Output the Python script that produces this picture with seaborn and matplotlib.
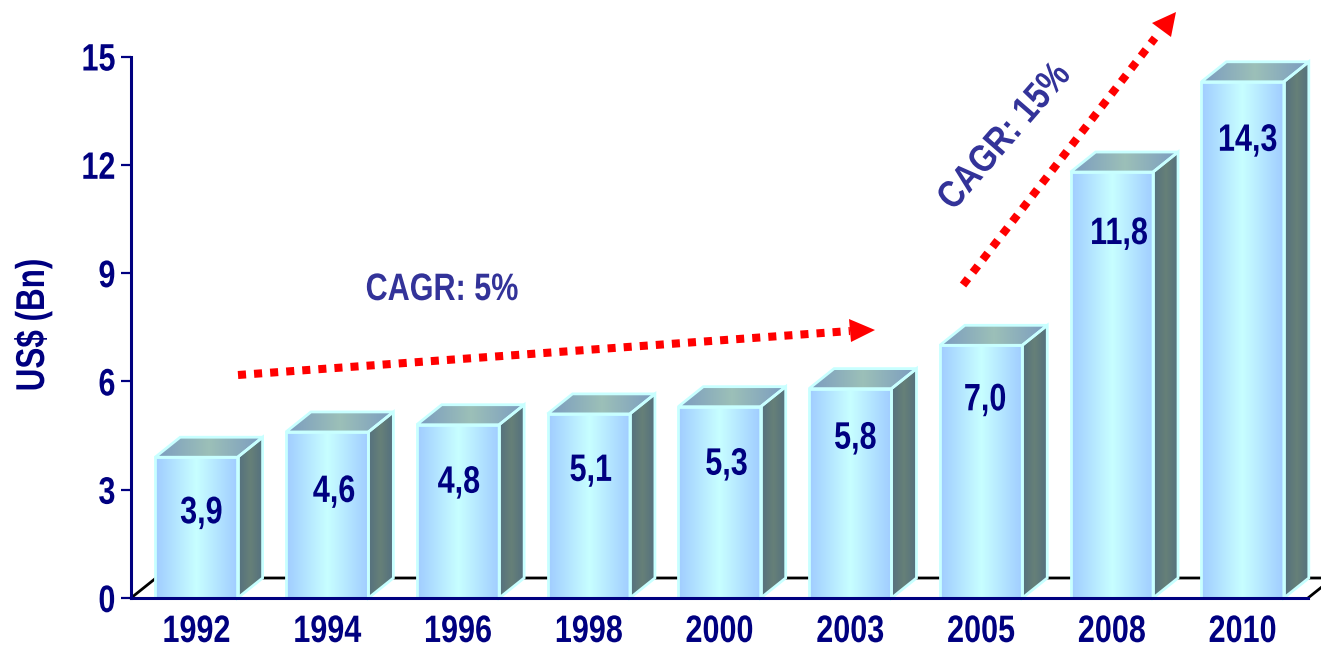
import matplotlib
matplotlib.use('Agg')
import matplotlib.pyplot as plt
from matplotlib.colors import LinearSegmentedColormap
from matplotlib.patches import Polygon
from matplotlib.patheffects import AbstractPathEffect
from matplotlib.transforms import Affine2D
import numpy as np
import seaborn as sns

years = ['1992', '1994', '1996', '1998', '2000', '2003', '2005', '2008', '2010']
values = [3.9, 4.6, 4.8, 5.1, 5.3, 5.8, 7.0, 11.8, 14.3]
value_labels = ['3,9', '4,6', '4,8', '5,1', '5,3', '5,8', '7,0', '11,8', '14,3']
y_ticks = [0, 3, 6, 9, 12, 15]

NAVY = '#000080'
EDGE = '#c8ffff'
INDIGO = '#333399'
W, H = 1321, 647
AX_L, AX_R, AX_T, AX_B = 131, 1308, 56.5, 598
XMIN = -0.5
DEPTH_X, DEPTH_Y = 25, 20  # fake 3d offset, pixels

# label offset from bar centre / bar top, pixels
label_nudge = [(5, 56), (7, 60), (1, 58), (2, 57), (7, 58), (5, 50), (4, 55), (7, 62), (5, 59)]

front_cmap = LinearSegmentedColormap.from_list('front', ['#a0ccff', '#c8ffff', '#a0ccff'])
top_cmap = LinearSegmentedColormap.from_list('top', ['#7b9cc0', '#9cc0b8', '#7b9cc0'])
side_cmap = LinearSegmentedColormap.from_list('side', ['#54707f', '#668078', '#54707f'])


class Squeeze(AbstractPathEffect):
    # narrows glyphs sideways, no Arial Narrow here
    def __init__(self, sx=0.8, anchor=0.5):
        super().__init__()
        self.sx = sx
        self.anchor = anchor

    def draw_path(self, renderer, gc, tpath, affine, rgbFace=None):
        ext = tpath.get_extents()
        pivot = ext.x0 + self.anchor * ext.width
        squeezed = Affine2D().translate(-pivot, 0).scale(self.sx, 1).translate(pivot, 0) + affine
        renderer.draw_path(gc, tpath, squeezed, rgbFace)


sns.set_theme(style='white')
plt.rcParams['font.family'] = ['Liberation Sans', 'DejaVu Sans']
plt.rcParams['font.weight'] = 'bold'

fig = plt.figure(figsize=(W / 100, H / 100), dpi=100, facecolor='white')
ax = fig.add_axes([AX_L / W, 1 - AX_B / H, (AX_R - AX_L) / W, (AX_B - AX_T) / H])

sns.barplot(x=years, y=values, width=0.63, color=EDGE, ax=ax, zorder=3)
ax.set_xlim(XMIN, XMIN + 9)
ax.set_ylim(0, 15)

xpx = (AX_R - AX_L) / 9
ypx = (AX_B - AX_T) / 15
dx, dy = DEPTH_X / xpx, DEPTH_Y / ypx
grad = np.linspace(0, 1, 128).reshape(1, -1)


def px(x, y):
    # figure pixel (top-left origin) to data coordinates
    return (x - AX_L) / xpx + XMIN, (AX_B - y) / ypx


def shaded_poly(points, cmap, zorder):
    xs = [p[0] for p in points]
    ys = [p[1] for p in points]
    im = ax.imshow(grad, cmap=cmap, aspect='auto', extent=(min(xs), max(xs), min(ys), max(ys)),
                   zorder=zorder, clip_on=True)
    poly = Polygon(points, closed=True, fc='none', ec=EDGE, lw=2, joinstyle='miter',
                   zorder=zorder + 0.1, clip_on=False)
    ax.add_patch(poly)
    im.set_clip_path(poly)


for bar, text, (nx, ny) in zip(list(ax.patches), value_labels, label_nudge):
    x0, w, h = bar.get_x(), bar.get_width(), bar.get_height()
    x1 = x0 + w
    bar.set_visible(False)
    shaded_poly([(x0, 0), (x1, 0), (x1, h), (x0, h)], front_cmap, 3)
    shaded_poly([(x0, h), (x1, h), (x1 + dx, h + dy), (x0 + dx, h + dy)], top_cmap, 3)
    shaded_poly([(x1, 0), (x1 + dx, dy), (x1 + dx, h + dy), (x1, h)], side_cmap, 3)
    ax.text(x0 + w / 2 + nx / xpx, h - ny / ypx, text, color=NAVY, fontsize=27.5,
            ha='center', va='center', zorder=6, path_effects=[Squeeze()])

ax.set_xlim(XMIN, XMIN + 9)
ax.set_ylim(0, 15)

# floor lines behind the bars
ax.plot([XMIN, XMIN + dx, XMIN + 9 + dx], [0, dy, dy], color='black', lw=2, zorder=1, clip_on=False)
ax.plot([XMIN + 9, XMIN + 9 + dx * 0.55], [0, dy * 0.55], color='black', lw=2, zorder=1, clip_on=False)

# dotted red growth arrows
for (start, end, tip, wing1, wing2) in [
    ((238, 375), (850, 331), (875, 330), (849, 319), (851, 342)),
    ((963, 285), (1155, 38), (1176, 12), (1152, 23), (1171, 37)),
]:
    sx, sy = px(*start)
    ex, ey = px(*end)
    ax.plot([sx, ex], [sy, ey], color='red', lw=5.8, ls=(0, (1, 1)),
            dash_capstyle='butt', zorder=7, clip_on=False)
    ax.add_patch(Polygon([px(*tip), px(*wing1), px(*wing2)], closed=True, fc='red', ec='none',
                         zorder=7, clip_on=False))

ax.text(*px(442, 290), 'CAGR: 5%', color=INDIGO, fontsize=27.5, ha='center', va='center',
        zorder=8, path_effects=[Squeeze()])
ax.text(*px(1005, 137), 'CAGR: 15%', color=INDIGO, fontsize=27.5, ha='center', va='center',
        rotation=49, rotation_mode='anchor', zorder=8, clip_on=False,
        path_effects=[Squeeze(0.85)])

sns.despine(ax=ax)
for side in ['left', 'bottom']:
    ax.spines[side].set_color(NAVY)
    ax.spines[side].set_linewidth(2.2)
    ax.spines[side].set_zorder(9)

ax.set_yticks(y_ticks)
ax.tick_params(axis='y', left=True, length=7, width=1.6, color=NAVY, labelcolor=NAVY,
               labelsize=27.5, pad=4)
ax.tick_params(axis='x', bottom=False, labelcolor=NAVY, labelsize=27.5, pad=5.5)
for label in ax.get_xticklabels():
    label.set_path_effects([Squeeze()])
for label in ax.get_yticklabels():
    label.set_path_effects([Squeeze(anchor=1.0)])

ax.set_ylabel('US$ (Bn)', color=NAVY, fontsize=29, fontweight='bold', va='baseline',
              path_effects=[Squeeze(0.78)])
ax.yaxis.set_label_coords((44 - AX_L) / (AX_R - AX_L), (AX_B - 325) / (AX_B - AX_T))

fig.savefig('out.png', dpi=100, facecolor='white')
